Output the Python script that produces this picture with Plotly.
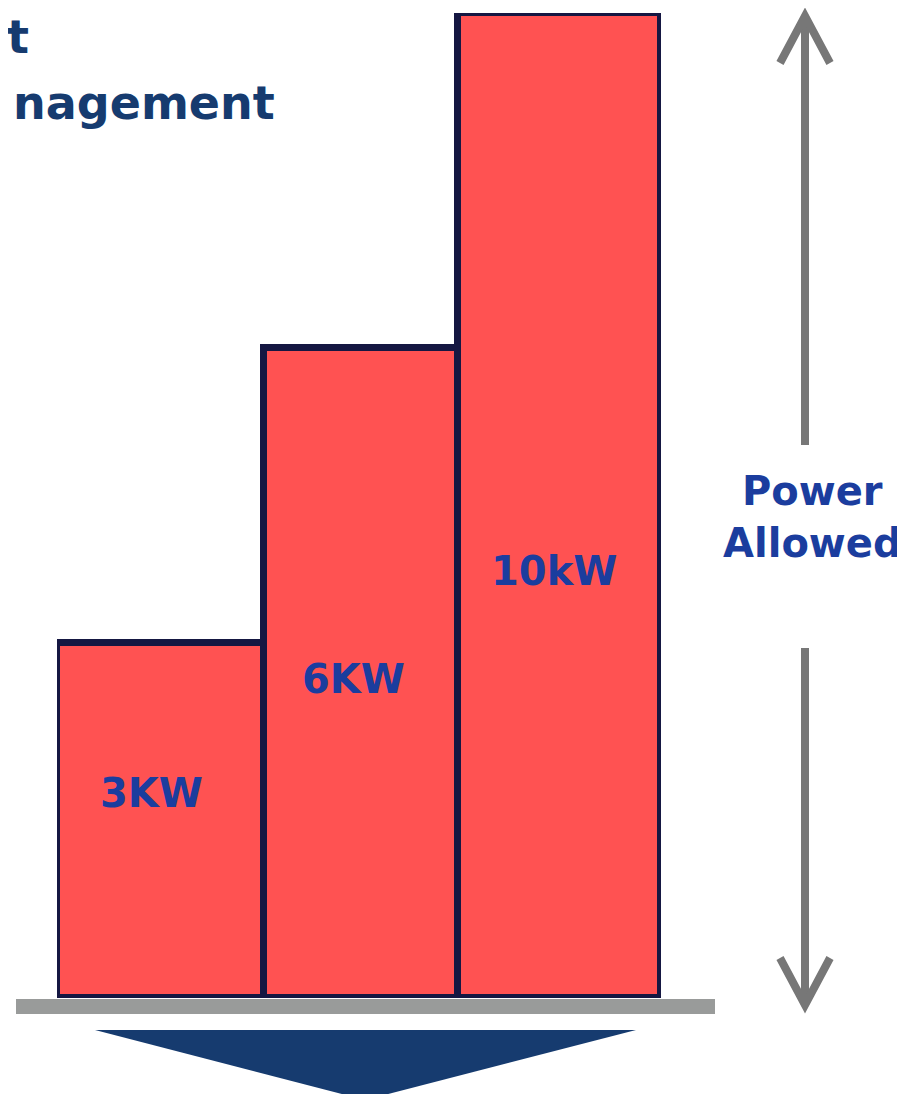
import plotly.graph_objects as go

# datos
categorias = ["A", "B", "C"]
alturas = [3.6, 6.6, 10.0]          # altura visual relativa de cada barra
etiquetas = ["3KW", "6KW", "10kW"]
texto_flecha = "Power<br>Allowed"

# la pagina deja 8px de margen en el body
OFF = 8
W, H = 905 - OFF, 1094 - OFF


def px(x):
    return (x - OFF) / W


def py(y):
    return 1 - (y - OFF) / H


GRIS = "#777777"
AZUL_TXT = "#1b3d9e"
NAVY = "#163b6f"

# ancho de las barras en unidades de categoria (no son todas iguales)
X0, X1 = 57, 661
unidad = (X1 - X0) / 3
bordes = [57, 264, 458, 661]
anchos = [(bordes[i + 1] - bordes[i]) / unidad for i in range(3)]
offsets = [(bordes[i] - (X0 + unidad * (i + 0.5))) / unidad for i in range(3)]

figura = go.Figure()

figura.add_trace(go.Bar(
    x=categorias,
    y=alturas,
    width=anchos,
    offset=offsets,
    marker=dict(color="#ff5252", line=dict(color="#151742", width=7)),
    hoverinfo="skip",
    showlegend=False,
))

# posiciones de las etiquetas (en unidades del eje y)
pos_etiquetas = [2.08, 3.24, 4.34]
anotaciones = []
for cat, txt, yy in zip(categorias, etiquetas, pos_etiquetas):
    anotaciones.append(dict(
        x=cat, y=yy, xref="x", yref="y", text="<b>" + txt + "</b>", showarrow=False,
        xshift=-6, font=dict(family="DejaVu Sans", size=40, color=AZUL_TXT),
    ))

# titulo (recortado en el original por el borde izquierdo)
anotaciones.append(dict(
    x=px(31), y=py(37), xref="paper", yref="paper", xanchor="right",
    yanchor="middle", text="<b>t</b>", showarrow=False,
    font=dict(family="DejaVu Sans", size=46, color=NAVY),
))
anotaciones.append(dict(
    x=px(277), y=py(103), xref="paper", yref="paper", xanchor="right",
    yanchor="middle", text="<b>nagement</b>", showarrow=False,
    font=dict(family="DejaVu Sans", size=46, color=NAVY),
))

anotaciones.append(dict(
    x=px(812), y=py(517), xref="paper", yref="paper", xanchor="center",
    yanchor="middle", text="<b>" + texto_flecha.replace("<br>", "</b><br><b>") + "</b>",
    showarrow=False, align="center",
    font=dict(family="DejaVu Sans", size=40, color=AZUL_TXT),
))

formas = [
    # suelo gris
    dict(type="rect", xref="paper", yref="paper",
         x0=px(16), x1=px(715), y0=py(1014), y1=py(999),
         fillcolor="#999b9a", line=dict(width=0), layer="above"),
    # triangulo inferior
    dict(type="path", xref="paper", yref="paper",
         path=f"M {px(95)} {py(1030)} L {px(636)} {py(1030)} L {px(365)} {py(1100)} Z",
         fillcolor="#163b6f", line=dict(width=0)),
    # flecha superior
    dict(type="line", xref="paper", yref="paper",
         x0=px(805), x1=px(805), y0=py(18), y1=py(445),
         line=dict(color=GRIS, width=8)),
    dict(type="path", xref="paper", yref="paper",
         path=f"M {px(780)} {py(63)} L {px(805)} {py(16)} L {px(830)} {py(63)}",
         line=dict(color=GRIS, width=8)),
    # flecha inferior
    dict(type="line", xref="paper", yref="paper",
         x0=px(805), x1=px(805), y0=py(648), y1=py(1003),
         line=dict(color=GRIS, width=8)),
    dict(type="path", xref="paper", yref="paper",
         path=f"M {px(780)} {py(958)} L {px(805)} {py(1005)} L {px(830)} {py(958)}",
         line=dict(color=GRIS, width=8)),
]

figura.update_layout(
    width=W, height=H,
    margin=dict(l=0, r=0, t=0, b=0),
    paper_bgcolor="white", plot_bgcolor="white",
    bargap=0,
    xaxis=dict(domain=[px(X0), px(X1)], showgrid=False, zeroline=False,
               showticklabels=False, showline=False, fixedrange=True),
    yaxis=dict(domain=[py(998), py(13)], range=[0, 10], showgrid=False,
               zeroline=False, showticklabels=False, showline=False, fixedrange=True),
    annotations=anotaciones,
    shapes=formas,
)

figura.write_html("out.html")
